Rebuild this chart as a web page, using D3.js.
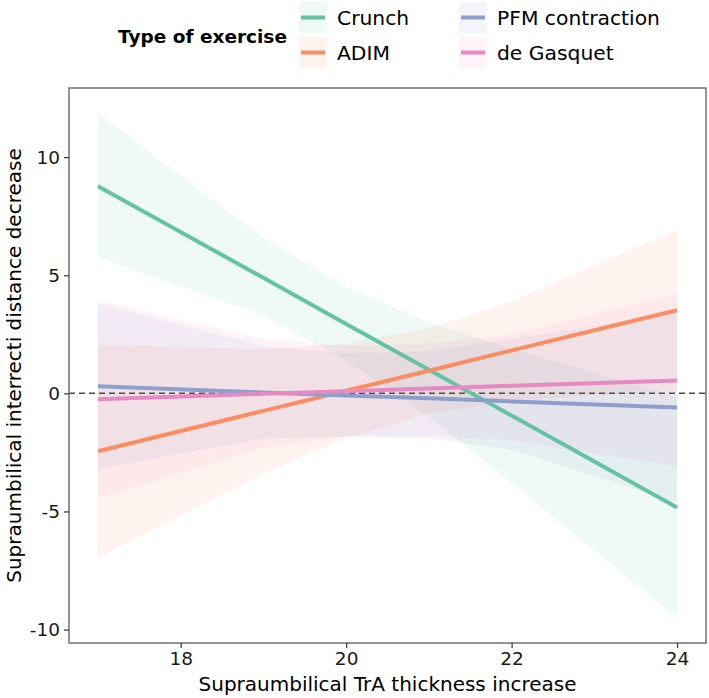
<!DOCTYPE html>
<html>
<head>
<meta charset="utf-8">
<script src="https://cdn.jsdelivr.net/npm/d3@7"></script>
<style>
  html, body { margin: 0; padding: 0; background: #fff; }
  svg { display: block; font-family: "DejaVu Sans", sans-serif; }
</style>
</head>
<body>
<div id="chart"></div>
<script>
// exercise groups, in legend order
const groups = ['Crunch', 'ADIM', 'PFM contraction', 'de Gasquet'];
const groupColors = ['#66c2a5', '#fc8d62', '#8da0cb', '#e78ac3'];

// x positions where the fit and the band were evaluated
const xPoints = [17, 19, 20, 21, 22, 24];

// fitted line per group
const fitCrunch = [8.77, 4.89, 2.94, 1.00, -0.94, -4.83];
const fitAdim   = [-2.45, -0.74, 0.11, 0.96, 1.82, 3.52];
const fitPfm    = [0.30, 0.04, -0.09, -0.21, -0.34, -0.60];
const fitGasq   = [-0.25, -0.02, 0.09, 0.21, 0.32, 0.55];

// confidence band, lower and upper edges
const lowCrunch = [5.76, 3.30, 1.39, -1.00, -3.78, -9.50];
const upCrunch  = [11.86, 6.57, 4.50, 3.00, 1.90, -0.16];
const lowAdim   = [-6.95, -3.40, -1.90, -0.85, -0.30, 0.12];
const upAdim    = [2.05, 1.86, 2.10, 2.76, 3.90, 6.92];
const lowPfm    = [-3.20, -1.90, -1.85, -1.90, -2.40, -4.60];
const upPfm     = [3.80, 2.00, 1.70, 1.80, 2.30, 3.40];
const lowGasq   = [-4.45, -2.30, -1.80, -1.80, -2.00, -3.10];
const upGasq    = [3.95, 2.30, 2.00, 2.10, 2.50, 4.20];

const xTicks = [18, 20, 22, 24];
const yTicks = [-10, -5, 0, 5, 10];

const series = [
  { name: groups[0], color: groupColors[0], fit: fitCrunch, lo: lowCrunch, hi: upCrunch },
  { name: groups[1], color: groupColors[1], fit: fitAdim, lo: lowAdim, hi: upAdim },
  { name: groups[2], color: groupColors[2], fit: fitPfm, lo: lowPfm, hi: upPfm },
  { name: groups[3], color: groupColors[3], fit: fitGasq, lo: lowGasq, hi: upGasq }
];

const W = 709, H = 698;
const panel = { left: 69, right: 706, top: 88, bottom: 643 };

const svg = d3.select('#chart').append('svg')
  .attr('width', W)
  .attr('height', H);

// ggplot-like 5% expansion
const xExt = d3.extent(xPoints);
const yMin = d3.min(series, s => d3.min(s.lo));
const yMax = d3.max(series, s => d3.max(s.hi));
const xPad = (xExt[1] - xExt[0]) * 0.05;
const yPad = (yMax - yMin) * 0.05;

const x = d3.scaleLinear()
  .domain([xExt[0] - xPad, xExt[1] + xPad])
  .range([panel.left, panel.right]);
const y = d3.scaleLinear()
  .domain([yMin - yPad, yMax + yPad])
  .range([panel.bottom, panel.top]);

const plot = svg.append('g').attr('class', 'plot');

// bands
const area = d3.area()
  .x((d, i) => x(xPoints[i]))
  .y0(d => y(d.lo))
  .y1(d => y(d.hi));

series.forEach(s => {
  const rows = xPoints.map((xv, i) => ({ lo: s.lo[i], hi: s.hi[i] }));
  plot.append('path')
    .attr('d', area(rows))
    .attr('fill', s.color)
    .attr('fill-opacity', 0.1);
});

// zero reference
plot.append('line')
  .attr('x1', panel.left)
  .attr('x2', panel.right)
  .attr('y1', y(0))
  .attr('y2', y(0))
  .attr('stroke', '#4d4d4d')
  .attr('stroke-width', 1.5)
  .attr('stroke-dasharray', '6,4');

// fitted lines
const line = d3.line()
  .x((d, i) => x(xPoints[i]))
  .y(d => y(d));

series.forEach(s => {
  plot.append('path')
    .attr('d', line(s.fit))
    .attr('fill', 'none')
    .attr('stroke', s.color)
    .attr('stroke-width', 4);
});

// panel border
svg.append('rect')
  .attr('x', panel.left)
  .attr('y', panel.top)
  .attr('width', panel.right - panel.left)
  .attr('height', panel.bottom - panel.top)
  .attr('fill', 'none')
  .attr('stroke', '#7a7a7a')
  .attr('stroke-width', 1.6);

// axes
const xAxis = svg.append('g')
  .attr('transform', `translate(0,${panel.bottom})`)
  .call(d3.axisBottom(x).tickValues(xTicks).tickSize(5).tickPadding(4));
const yAxis = svg.append('g')
  .attr('transform', `translate(${panel.left},0)`)
  .call(d3.axisLeft(y).tickValues(yTicks).tickSize(5).tickPadding(4).tickFormat(d => String(d)));

[xAxis, yAxis].forEach(a => {
  a.select('.domain').remove();
  a.selectAll('line').attr('stroke', '#333').attr('stroke-width', 1.2);
  a.selectAll('text')
    .attr('fill', '#1a1a1a')
    .attr('font-size', 18.5)
    .attr('font-family', 'DejaVu Sans, sans-serif');
});

// axis titles
svg.append('text')
  .attr('x', (panel.left + panel.right) / 2)
  .attr('y', 691)
  .attr('text-anchor', 'middle')
  .attr('font-size', 20)
  .attr('fill', '#000')
  .text('Supraumbilical TrA thickness increase');

svg.append('text')
  .attr('transform', `translate(21,${(panel.top + panel.bottom) / 2}) rotate(-90)`)
  .attr('text-anchor', 'middle')
  .attr('font-size', 20)
  .attr('fill', '#000')
  .text('Supraumbilical interrecti distance decrease');

// Legend
const legend = svg.append('g').attr('class', 'legend');

legend.append('text')
  .attr('x', 118)
  .attr('y', 43)
  .attr('font-size', 18.5)
  .attr('font-weight', 700)
  .attr('fill', '#000')
  .text('Type of exercise');

const keyW = 28, keyH = 31;
const colX = [299, 459];
const rowY = [2, 37];

series.forEach((s, i) => {
  const col = Math.floor(i / 2);
  const row = i % 2;
  const g = legend.append('g')
    .attr('transform', `translate(${colX[col]},${rowY[row]})`);
  g.append('rect')
    .attr('width', keyW)
    .attr('height', keyH)
    .attr('fill', s.color)
    .attr('fill-opacity', 0.1);
  g.append('line')
    .attr('x1', 2)
    .attr('x2', keyW - 2)
    .attr('y1', keyH / 2)
    .attr('y2', keyH / 2)
    .attr('stroke', s.color)
    .attr('stroke-width', 4);
  g.append('text')
    .attr('x', keyW + 10)
    .attr('y', keyH / 2)
    .attr('dy', '0.35em')
    .attr('font-size', 20.3)
    .attr('fill', '#000')
    .text(s.name);
});
</script>
</body>
</html>
